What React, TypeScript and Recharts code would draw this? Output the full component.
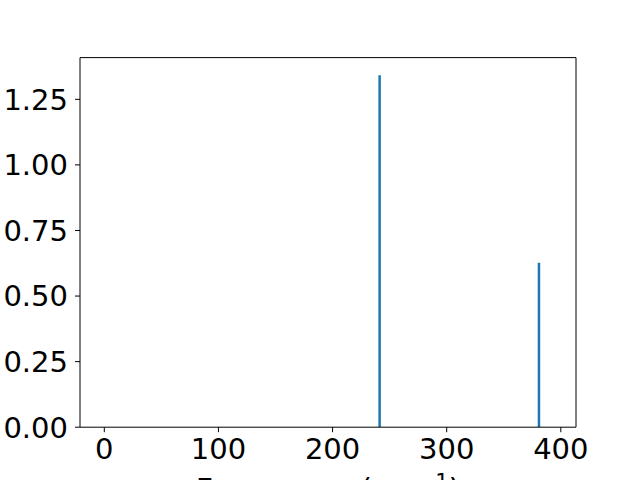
import React from 'react';
import { ComposedChart, Bar, XAxis, YAxis, ReferenceLine } from 'recharts';

// peak positions (cm^-1) and intensities
const frequencies = [241.6, 381.2];
const intensities = [1.342, 0.627];

const xTicks = [0, 100, 200, 300, 400];
const yTicks = [0, 0.25, 0.5, 0.75, 1.0, 1.25];

const xDomain = [-21.3, 413.3];
const yDomain = [0, 1.342 * 1.05];

const data = frequencies.map((f, i) => ({ freq: f, intensity: intensities[i] }));

const FONT = 'DejaVu Sans';
const FS = 29;

const XTick = ({ x, y, payload }: any) => (
  <text x={x} y={y} dy="0.75em" textAnchor="middle" fontFamily={FONT} fontSize={FS} fill="#000">
    {payload.value}
  </text>
);

const YTick = ({ x, y, payload }: any) => (
  <text x={x} y={y} dy="0.36em" textAnchor="end" fontFamily={FONT} fontSize={FS} fill="#000">
    {payload.value.toFixed(2)}
  </text>
);

const XLabel = ({ viewBox }: any) => {
  const cx = viewBox.x + viewBox.width / 2;
  return (
    <text x={cx} y={499.5} textAnchor="middle" fontFamily={FONT} fontSize={30} fill="#000">
      Frequency (cm
      <tspan dy={-11} fontSize={21}>−1</tspan>
      <tspan dy={11}>)</tspan>
    </text>
  );
};

export default function App() {
  return (
    <div style={{ position: 'absolute', left: 0, top: 0, width: 640, height: 480, background: '#fff' }}>
      <ComposedChart
        width={640}
        height={480}
        data={data}
        margin={{ top: 57.6, right: 64, left: 0, bottom: 0 }}
      >
        <XAxis
          dataKey="freq"
          type="number"
          domain={xDomain}
          ticks={xTicks}
          allowDataOverflow
          height={52.8}
          tick={<XTick />}
          tickSize={5}
          tickMargin={5}
          stroke="#000"
          tickLine={{ stroke: '#000' }}
          axisLine={{ stroke: '#000' }}
          label={<XLabel />}
        />
        <YAxis
          type="number"
          domain={yDomain}
          ticks={yTicks}
          allowDataOverflow
          width={80}
          tick={<YTick />}
          tickSize={5}
          tickMargin={7}
          stroke="#000"
          tickLine={{ stroke: '#000' }}
          axisLine={{ stroke: '#000' }}
        />
        {/* top and right spines */}
        <ReferenceLine y={yDomain[1]} stroke="#000" ifOverflow="visible" />
        <ReferenceLine x={xDomain[1]} stroke="#000" ifOverflow="visible" />
        <Bar dataKey="intensity" fill="#1f77b4" barSize={2.5} isAnimationActive={false} />
      </ComposedChart>
    </div>
  );
}
